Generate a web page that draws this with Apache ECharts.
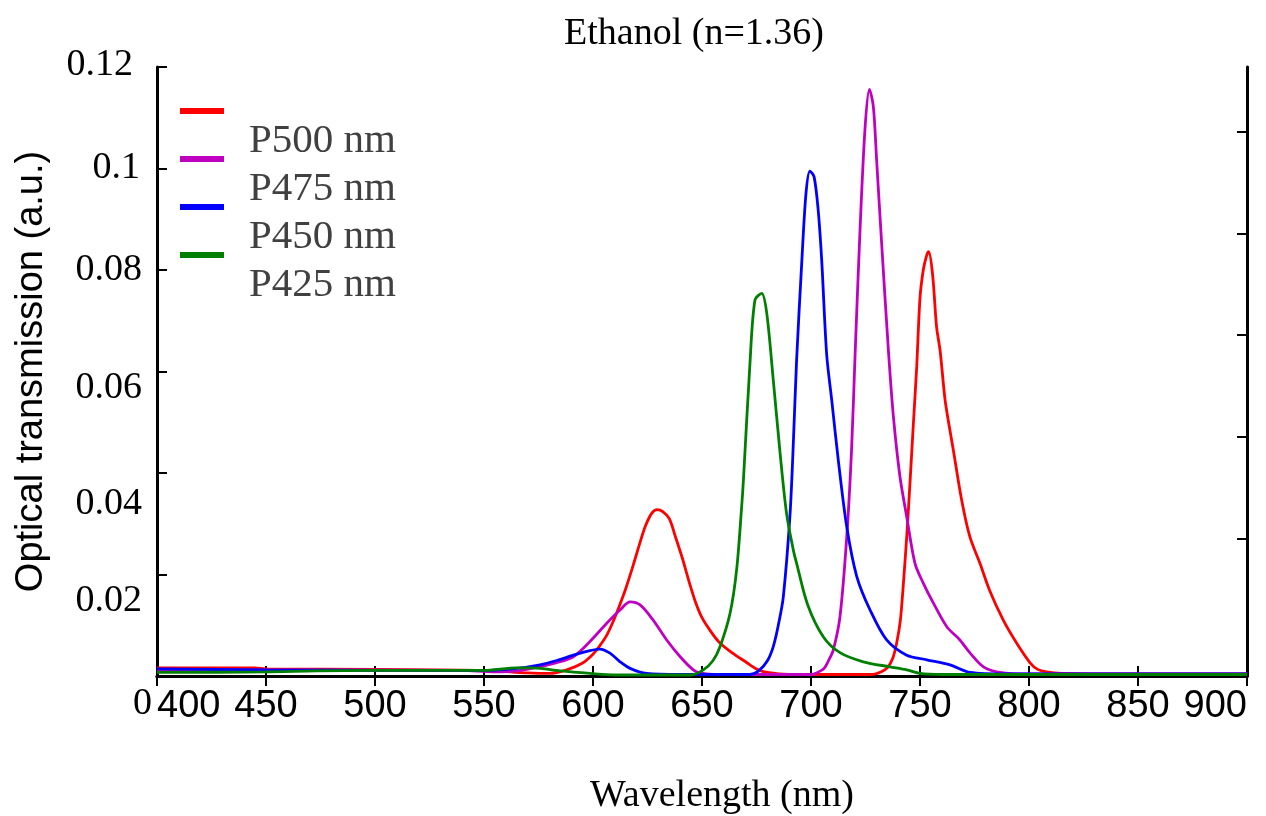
<!DOCTYPE html>
<html>
<head>
<meta charset="utf-8">
<script src="https://cdn.jsdelivr.net/npm/echarts@6/dist/echarts.min.js"></script>
<style>html,body{margin:0;padding:0;background:#fff}#c{width:1266px;height:816px}</style>
</head>
<body>
<div id="c"></div>
<script>
const titleText = 'Ethanol (n=1.36)';
const xName = 'Wavelength (nm)';
const yName = 'Optical transmission (a.u.)';
const seriesNames = ['P500 nm', 'P475 nm', 'P450 nm', 'P425 nm'];
const seriesColors = ['#ff0000', '#c000c0', '#0000ff', '#008000'];
const yTickLabels = ['0', '0.02', '0.04', '0.06', '0.08', '0.1', '0.12'];
const rightTickValues = [0.027, 0.0471, 0.0672, 0.0872, 0.1072];

const p500X = [400,445,450,500,550,570,580,588,595,600,603,606,609,612,615,618,621,624,627,629.5,632,635,638,641,644,647,650,654,658,664,670,675,680,690,728,732,735,737.5,739.3,741,742.4,744,745.4,747,748.5,750,751.5,753,754,755.8,757.6,759.2,761.5,763.5,765.3,769.1,772.9,777.5,782,788.2,794.3,800.5,804,808,815,850,900];
const p500Y = [0.0016,0.0016,0.0014,0.0013,0.0011,0.0006,0.0005,0.0012,0.0025,0.0043,0.0059,0.0078,0.0105,0.0137,0.0172,0.0212,0.0255,0.0295,0.0321,0.0328,0.0324,0.031,0.0272,0.0232,0.0187,0.0146,0.0115,0.0088,0.0066,0.0045,0.0028,0.0014,0.0007,0.0003,0.0003,0.0008,0.0016,0.0035,0.0065,0.011,0.0183,0.028,0.038,0.05,0.061,0.0745,0.08,0.0828,0.0836,0.079,0.0688,0.0642,0.0544,0.049,0.0445,0.0347,0.0274,0.0222,0.0168,0.011,0.0065,0.0026,0.0013,0.0008,0.0005,0.0004,0.0004];

const p475X = [400,450,500,540,555,565,575,583,591,598.6,606.3,612.4,617,621.6,627.6,633.8,640,646,649,655,700,702.6,706,708,710.2,713.3,716.4,718.6,720.2,722.5,724.8,726.8,728.6,730.1,732.4,735.5,737.8,740.8,743.9,747.7,751.5,756.1,762.3,768.3,773,779.1,786.7,800,900];
const p475Y = [0.0012,0.0012,0.0012,0.0011,0.0008,0.001,0.0018,0.0026,0.0038,0.0068,0.0104,0.013,0.0146,0.014,0.011,0.0071,0.0038,0.0012,0.0006,0.0003,0.0003,0.0006,0.0015,0.003,0.0051,0.0117,0.0274,0.0445,0.063,0.088,0.108,0.1156,0.1122,0.1017,0.0853,0.0642,0.0511,0.0393,0.0314,0.0222,0.0183,0.0144,0.0097,0.0071,0.0045,0.0018,0.0007,0.0004,0.0004];

const p450X = [400,450,500,550,565,575.7,583,591,598.6,603.2,607.8,612.4,617,624.6,640,672,676,680,682.7,685,687.3,690.4,692,693.4,695.7,697.7,699.5,701.4,703.3,704.9,707.2,709.5,712.5,716.4,721,727.1,734.7,743.9,753.1,763.8,773,790,900];
const p450Y = [0.0014,0.0012,0.0011,0.0011,0.0015,0.0022,0.003,0.0041,0.005,0.0053,0.0045,0.0028,0.0015,0.0005,0.0003,0.0003,0.001,0.003,0.0058,0.01,0.0156,0.032,0.047,0.0623,0.081,0.0951,0.0995,0.0984,0.0918,0.082,0.0633,0.0544,0.0426,0.0294,0.0196,0.013,0.0071,0.0041,0.0032,0.0022,0.0007,0.0004,0.0004];

const p425X = [400,450,473,500,550,565,572,576,585,598.6,610,645,650.6,655,658.3,662.9,665.9,668.2,669,672,674.3,677.4,679.7,682.7,685.8,688.8,691.9,693.4,698.5,705.7,713.3,724,736.2,743.9,750,760,900];
const p425Y = [0.0007,0.0008,0.001,0.0011,0.0011,0.0016,0.0016,0.0015,0.001,0.0005,0.0002,0.0002,0.0012,0.003,0.0058,0.0124,0.021,0.0334,0.0386,0.0616,0.0741,0.0754,0.0715,0.0583,0.044,0.032,0.0248,0.0222,0.014,0.0077,0.0046,0.0028,0.0018,0.0012,0.0005,0.0003,0.0003];

const seriesX = [p500X, p475X, p450X, p425X];
const seriesY = [p500Y, p475Y, p450Y, p425Y];

const SERIF = 'Liberation Serif';
const SANS = 'Liberation Sans';

// per-label vertical shift (px, positive = down) and right padding, as in the reference rendering
const yLabelShift = {'0': [28, 0], '0.02': [27, 10], '0.04': [31, 10], '0.06': [17, 10], '0.08': [0, 10], '0.1': [0, 12], '0.12': [-2, 19]};
const rich = {};
yTickLabels.forEach((t, i) => {
  const s = yLabelShift[t];
  rich['l' + i] = {
    fontFamily: SERIF, fontSize: 38, color: '#000',
    padding: [s[0] > 0 ? 2 * s[0] : 0, s[1], s[0] < 0 ? -2 * s[0] : 0, 0]
  };
});

const chart = echarts.init(document.getElementById('c'), null, {renderer: 'canvas'});
chart.setOption({
  animation: false,
  backgroundColor: '#fff',
  title: {
    text: titleText, left: 689, top: 10, textAlign: 'center',
    textStyle: {fontFamily: SERIF, fontSize: 38, fontWeight: 'normal', color: '#000'}
  },
  legend: {
    orient: 'vertical', left: 180, top: 51, padding: 0,
    itemWidth: 44, itemHeight: 6, itemGap: -72, icon: 'rect',
    data: seriesNames.map((n, i) => ({name: n, itemStyle: {color: seriesColors[i]}})),
    formatter: name => '\n' + name,
    textStyle: {fontFamily: SERIF, fontSize: 41, color: '#404040', lineHeight: 60, padding: [0, 0, 0, 20]}
  },
  grid: {left: 157, right: 19, top: 67, bottom: 140, containLabel: false, outerBoundsMode: 'none'},
  xAxis: [{
    type: 'value', min: 400, max: 900, interval: 50, position: 'bottom',
    name: xName, nameLocation: 'middle', nameGap: 101,
    nameTextStyle: {fontFamily: SERIF, fontSize: 38, color: '#000', padding: [0, 0, 0, 40]},
    axisLine: {show: true, lineStyle: {color: '#000', width: 3}},
    axisTick: {show: true, inside: true, length: 10, lineStyle: {color: '#000', width: 2}},
    axisLabel: {fontFamily: SANS, fontSize: 38, color: '#000', margin: 12, alignMinLabel: 'left', alignMaxLabel: 'right'},
    splitLine: {show: false}
  }, {
    type: 'value', min: 400, max: 900, interval: 50, position: 'top',
    axisLine: {show: true, lineStyle: {color: '#000', width: 3}},
    axisTick: {show: true, inside: true, length: 10, lineStyle: {color: '#000', width: 2}},
    axisLabel: {show: false}, splitLine: {show: false}
  }],
  yAxis: [{
    type: 'value', min: 0, max: 0.12, interval: 0.02, position: 'left',
    name: yName, nameLocation: 'middle', nameGap: 106, nameRotate: 90,
    nameTextStyle: {fontFamily: SANS, fontSize: 38, color: '#000'},
    axisLine: {show: true, lineStyle: {color: '#000', width: 3}},
    axisTick: {show: true, inside: true, length: 10, lineStyle: {color: '#000', width: 2}},
    axisLabel: {
      margin: 5, showMinLabel: true, showMaxLabel: true,
      formatter: v => {
        const i = Math.round(v / 0.02);
        return '{l' + i + '|' + yTickLabels[i] + '}';
      },
      rich: rich
    },
    splitLine: {show: false}
  }, {
    type: 'value', min: 0, max: 0.12, position: 'right',
    axisLine: {show: true, lineStyle: {color: '#000', width: 3}},
    axisTick: {show: true, inside: true, length: 10, customValues: rightTickValues, lineStyle: {color: '#000', width: 2}},
    axisLabel: {show: false}, splitLine: {show: false}
  }],
  series: seriesNames.map((n, i) => ({
    name: n, type: 'line', xAxisIndex: 0, yAxisIndex: 0,
    showSymbol: false, symbol: 'none', smooth: 0.3,
    lineStyle: {color: seriesColors[i], width: 2.8},
    itemStyle: {color: seriesColors[i]},
    data: seriesX[i].map((x, k) => [x, seriesY[i][k]])
  }))
});
</script>
</body>
</html>
